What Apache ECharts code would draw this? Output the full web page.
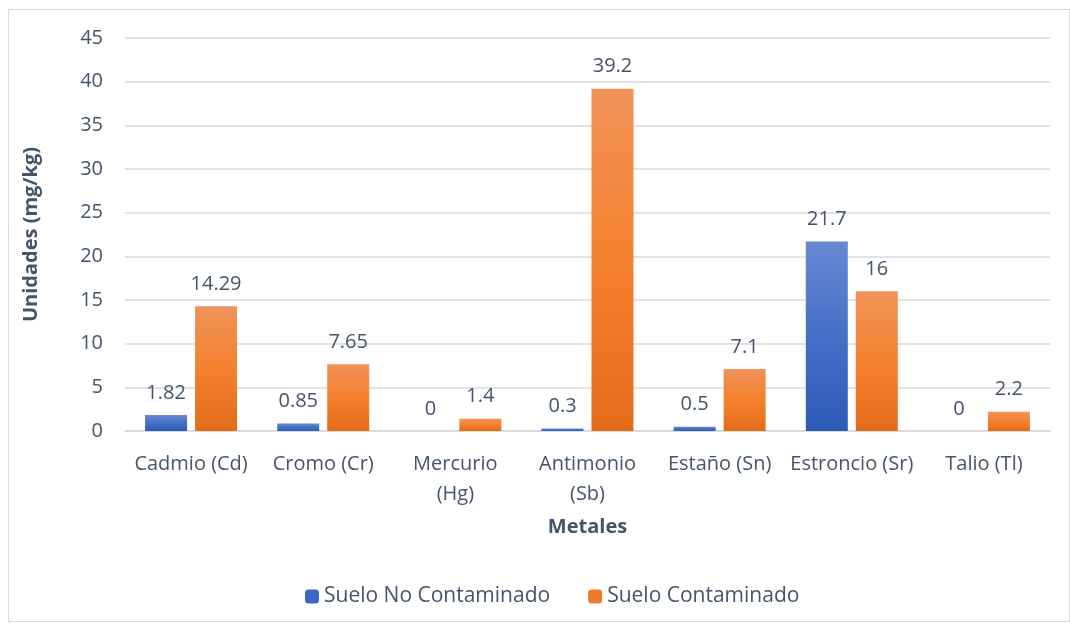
<!DOCTYPE html>
<html><head><meta charset="utf-8">
<script src="https://cdn.jsdelivr.net/npm/echarts@6/dist/echarts.min.js"></script>
<style>html,body{margin:0;padding:0;background:#fff}#c{width:1070px;height:626px}
#frame{position:absolute;left:8px;top:9px;width:1062px;height:613px;border:1px solid #d9d9d9;box-sizing:border-box;pointer-events:none}</style>
</head><body><div id="c"></div><div id="frame"></div>
<script>
const categories = ['Cadmio (Cd)', 'Cromo (Cr)', 'Mercurio\n(Hg)', 'Antimonio\n(Sb)', 'Estaño (Sn)', 'Estroncio (Sr)', 'Talio (Tl)'];
const noContaminado = [1.82, 0.85, 0, 0.3, 0.5, 21.7, 0];
const contaminado = [14.29, 7.65, 1.4, 39.2, 7.1, 16, 2.2];
const yTicks = {min: 0, max: 45, interval: 5};
const seriesNames = ['Suelo No Contaminado', 'Suelo Contaminado'];

const txt = '#44546a';
const font = 'Open Sans';
const grad = (a, b, c) => new echarts.graphic.LinearGradient(0, 0, 0, 1, [
  {offset: 0, color: a}, {offset: 0.5, color: b}, {offset: 1, color: c}]);
const chart = echarts.init(document.getElementById('c'));
const lbl = {show: true, position: 'top', distance: 12, color: txt, fontSize: 20, fontFamily: font};
chart.setOption({
  animation: false,
  textStyle: {fontFamily: font},
  grid: {left: 125, right: 20, top: 38, bottom: 195},
  legend: {
    bottom: 14, left: 300, itemWidth: 14, itemHeight: 14, itemGap: 38,
    textStyle: {color: txt, fontSize: 21, fontFamily: font},
    data: [{name: seriesNames[0], itemStyle: {color: '#3c67c4'}}, {name: seriesNames[1], itemStyle: {color: '#ee7a2e'}}]
  },
  xAxis: {
    type: 'category', data: categories,
    name: 'Metales', nameLocation: 'middle', nameGap: 86,
    nameTextStyle: {color: txt, fontSize: 20, fontWeight: 'bold', fontFamily: font},
    axisLine: {lineStyle: {color: '#d9d9d9', width: 1.5}}, axisTick: {show: false},
    axisLabel: {interval: 0, color: txt, fontSize: 20, margin: 18, lineHeight: 30, fontFamily: font}
  },
  yAxis: {
    type: 'value', min: yTicks.min, max: yTicks.max, interval: yTicks.interval,
    name: 'Unidades (mg/kg)', nameLocation: 'middle', nameGap: 84, nameRotate: 90,
    nameTextStyle: {color: txt, fontSize: 20, fontWeight: 'bold', fontFamily: font},
    axisLine: {show: false}, axisTick: {show: false},
    splitLine: {lineStyle: {color: '#d9d9d9', width: 1.5}},
    axisLabel: {color: txt, fontSize: 20, margin: 22, fontFamily: font}
  },
  series: [
    {name: seriesNames[0], type: 'bar', data: noContaminado, barWidth: 42, barGap: '19%',
     itemStyle: {color: grad('#6888d1', '#4470c8', '#2c5bb8')}, label: lbl},
    {name: seriesNames[1], type: 'bar', data: contaminado, barWidth: 42,
     itemStyle: {color: grad('#f1925a', '#f4812d', '#e36c1a')}, label: lbl}
  ]
});
</script></body></html>
